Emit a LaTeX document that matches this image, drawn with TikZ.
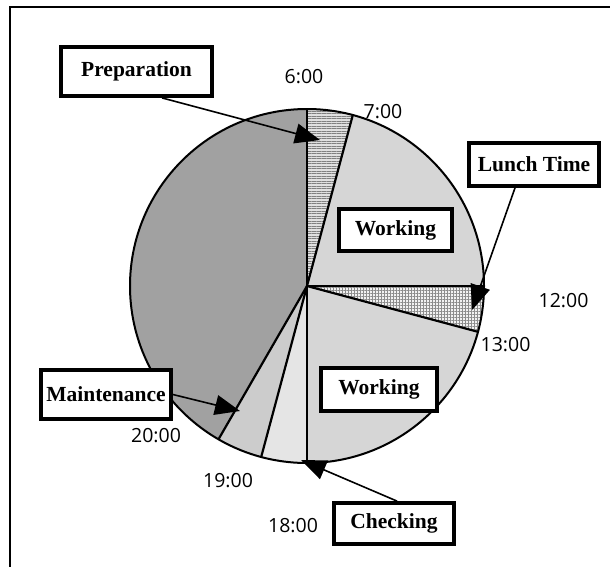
\documentclass[tikz,border=0pt]{standalone}
\usepackage{fontspec}
\setmainfont{Liberation Serif}
\newfontfamily\timefont{Open Sans}
\usetikzlibrary{arrows.meta,patterns.meta,calc}
\begin{document}
\begin{tikzpicture}[x=1pt,y=-1pt,
  labelbox/.style={draw, line width=3.8pt, fill=white, inner sep=0pt, font=\bfseries\fontsize{21.5}{24}\selectfont},
  timelbl/.style={font=\timefont\fontsize{19.5}{22}\selectfont, inner sep=0pt},
  callout/.style={line width=1.6pt, -{Triangle[length=25pt,width=20pt]}},
  sliceline/.style={line width=2.2pt},
]
\useasboundingbox (0,0) rectangle (610,566);
\draw[line width=1.8pt] (10,580) -- (10,7) -- (620,7);
\begin{scope}[shift={(307,286)}, x=1pt, y=1pt]
  % rest (20:00-6:00)
  \fill[black!37] (0,0) -- (-120:177) arc[start angle=-120,end angle=-270,radius=177] -- cycle;
  % preparation
  \fill[black!12] (0,0) -- (90:177) arc[start angle=90,end angle=75,radius=177] -- cycle;
  \fill[pattern={Lines[angle=0,distance=2.5pt,line width=0.8pt]}, pattern color=black!50] (0,0) -- (90:177) arc[start angle=90,end angle=75,radius=177] -- cycle;
  % working 1
  \fill[black!16] (0,0) -- (75:177) arc[start angle=75,end angle=0,radius=177] -- cycle;
  % lunch
  \fill[black!5] (0,0) -- (0:177) arc[start angle=0,end angle=-15,radius=177] -- cycle;
  \fill[pattern={Hatch[angle=0,distance=3pt,line width=0.6pt]}, pattern color=black!45] (0,0) -- (0:177) arc[start angle=0,end angle=-15,radius=177] -- cycle;
  % working 2
  \fill[black!16] (0,0) -- (-15:177) arc[start angle=-15,end angle=-90,radius=177] -- cycle;
  % checking
  \fill[black!10] (0,0) -- (-90:177) arc[start angle=-90,end angle=-105,radius=177] -- cycle;
  % maintenance
  \fill[black!20] (0,0) -- (-105:177) arc[start angle=-105,end angle=-120,radius=177] -- cycle;
  % slice lines
  \foreach \a in {90,75,0,-15,-90,-105,-120} \draw[sliceline] (0,0) -- (\a:177);
  \draw[line width=2pt] (0,0) circle[radius=177];
\end{scope}

\node[labelbox, minimum width=151pt, minimum height=49pt] (prep) at (136.5,71.5) {Preparation};
\node[labelbox, minimum width=113pt, minimum height=42pt] (work1) at (395.5,230) {Working};
\node[labelbox, minimum width=130pt, minimum height=43pt] (lunch) at (534,164.5) {Lunch Time};
\node[labelbox, minimum width=130pt, minimum height=49pt] (maint) at (106,394.5) {Maintenance};
\node[labelbox, minimum width=116pt, minimum height=43pt] (work2) at (379,389.5) {Working};
\node[labelbox, minimum width=120pt, minimum height=41pt] (check) at (394,523.5) {Checking};

\coordinate (prepTip) at (320,140);
\coordinate (lunchTip) at (472,310);
\coordinate (maintTip) at (240,411);
\coordinate (checkTip) at (301,460);

\draw[callout] ($(prep.south)+(25.5,0)$) -- (prepTip);
\draw[callout] ($(lunch.south)+(-19,0)$) -- (lunchTip);
\draw[callout] (maint.east) -- (maintTip);
\draw[callout] ($(check.north)+(3,0)$) -- (checkTip);

\node[timelbl] (t6) at (304,77) {6:00};
\node[timelbl] (t7) at (383,111.5) {7:00};
\node[timelbl] (t12) at (563.5,300.5) {12:00};
\node[timelbl] (t13) at (505.5,345) {13:00};
\node[timelbl] (t18) at (293,525.5) {18:00};
\node[timelbl] (t19) at (228,480.5) {19:00};
\node[timelbl] (t20) at (156,435.5) {20:00};
\end{tikzpicture}
\end{document}
